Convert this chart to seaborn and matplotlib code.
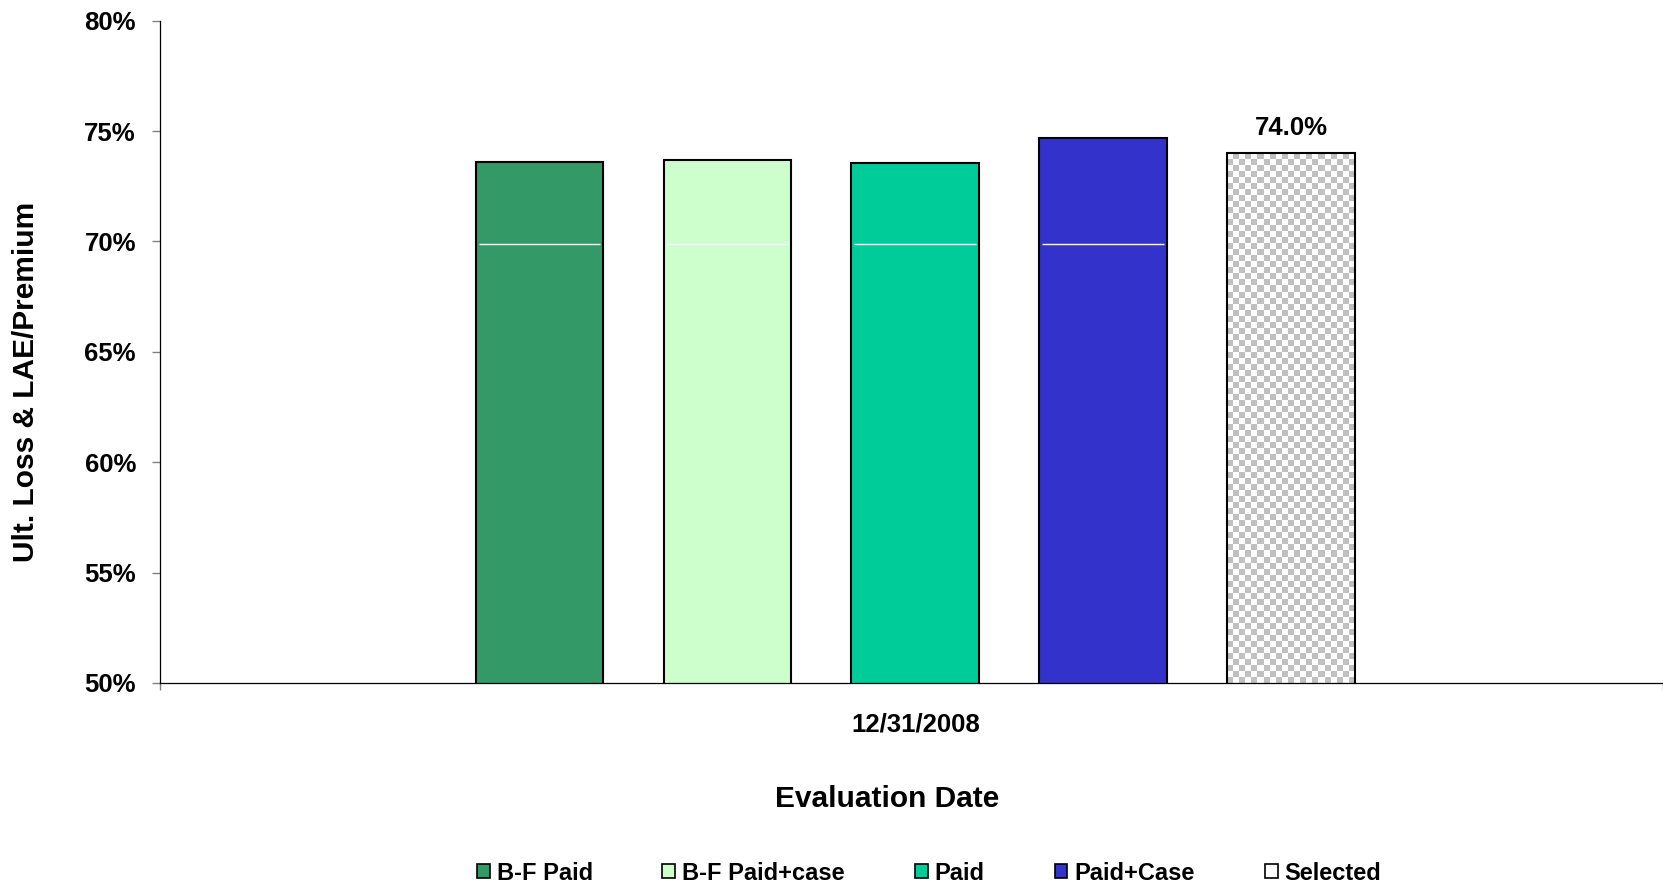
import numpy as np
import pandas as pd
import matplotlib
matplotlib.use("Agg")
import matplotlib.pyplot as plt
from matplotlib.colors import ListedColormap
from matplotlib.patches import Patch
from matplotlib.ticker import MultipleLocator, PercentFormatter
import seaborn as sns

# ---- data -------------------------------------------------------------
eval_dates = ["12/31/2008"]
methods = ["B-F Paid", "B-F Paid+case", "Paid", "Paid+Case", "Selected"]
ult_ratio = [73.6, 73.7, 73.55, 74.7, 74.0]          # Ult. Loss & LAE / Premium, %
inner_split = [69.9, 69.9, 69.9, 69.9]              # split line inside the method bars
colors = ["#339966", "#CCFFCC", "#00CC99", "#3333CC", "#FFFFFF"]
y_ticks = [50, 55, 60, 65, 70, 75, 80]

# ---- style ------------------------------------------------------------
sns.set_style("white")
plt.rcParams["font.family"] = ["Liberation Sans", "DejaVu Sans"]
plt.rcParams["font.weight"] = "bold"
plt.rcParams["axes.labelweight"] = "bold"
plt.rcParams["text.color"] = "black"
plt.rcParams["axes.labelcolor"] = "black"
plt.rcParams["xtick.labelcolor"] = "black"
plt.rcParams["ytick.labelcolor"] = "black"

df = pd.DataFrame({
    "date": eval_dates * len(methods),
    "method": methods,
    "ratio": ult_ratio,
})

W, H = 1663, 883
fig = plt.figure(figsize=(W / 100, H / 100), dpi=100)
ax = fig.add_axes([160 / W, 1 - 683 / H, 1 - 160 / W, (683 - 20.7) / H])

sns.barplot(
    data=df, x="date", y="ratio", hue="method", hue_order=methods,
    palette=dict(zip(methods, colors)), saturation=1,
    width=0.625, gap=0.32, edgecolor="black", linewidth=1.5,
    errorbar=None, legend=False, ax=ax,
)

XLIM = (-0.5025, 0.4975)
ax.set_xlim(*XLIM)
ax.set_ylim(y_ticks[0], y_ticks[-1])

# split line inside each method bar
for cont, split in zip(ax.containers[:4], inner_split):
    p = cont.patches[0]
    ax.hlines(split, p.get_x() + 0.002, p.get_x() + p.get_width() - 0.002,
              color="white", linewidth=1.0, zorder=3)

# checkered fill for the selected bar
sel = ax.containers[4].patches[0]
sel.set_facecolor("none")
sel.set_zorder(3)
x0, x1 = sel.get_x(), sel.get_x() + sel.get_width()
y0, y1 = y_ticks[0], sel.get_height()
(px0, py0), (px1, py1) = ax.transData.transform([(x0, y0), (x1, y1)])
cell = 6.0
ncols = max(1, int(round(abs(px1 - px0) / cell)))
nrows = max(1, int(round(abs(py1 - py0) / cell)))
board = (np.add.outer(np.arange(nrows), np.arange(ncols)) % 2).astype(float)
im = ax.imshow(board, cmap=ListedColormap(["#FFFFFF", "#C0C0C0"]),
               extent=[x0, x1, y0, y1], aspect="auto",
               interpolation="nearest", zorder=2)
im.set_clip_path(sel)
ax.set_xlim(*XLIM)
ax.set_ylim(y_ticks[0], y_ticks[-1])

ax.bar_label(ax.containers[4], labels=[f"{ult_ratio[4]:.1f}%"],
             padding=9.5, fontsize=18.5, fontweight="bold", color="black")

# ---- axes -------------------------------------------------------------
ax.yaxis.set_major_locator(MultipleLocator(5))
ax.yaxis.set_major_formatter(PercentFormatter(decimals=0))
ax.set_yticks(y_ticks)
ax.tick_params(axis="y", which="major", left=True, length=5.8, width=1,
               color="#808080", labelcolor="black", pad=11.5, labelsize=18.5)
ax.tick_params(axis="x", which="major", bottom=False, length=0, pad=21.5,
               labelcolor="black", labelsize=18.5)
ax.set_xticks(list(XLIM), minor=True)
ax.tick_params(axis="x", which="minor", bottom=True, length=5, width=1,
               color="#808080")
for lab in ax.get_xticklabels() + ax.get_yticklabels():
    lab.set_fontweight("bold")

for side in ("top", "right"):
    ax.spines[side].set_visible(False)
for side in ("left", "bottom"):
    ax.spines[side].set_color("black")
    ax.spines[side].set_linewidth(0.9)

ax.set_xlabel("Evaluation Date", fontsize=21.5, fontweight="bold", color="black")
ax.set_ylabel("Ult. Loss & LAE/Premium", fontsize=21.5, fontweight="bold", color="black")
ax.xaxis.set_label_coords((887 - 160) / 1503, (683 - 799) / 662.3)
ax.xaxis.label.set_va("center")
ax.yaxis.set_label_coords((26.5 - 160) / 1503, (683 - 382) / 662.3)
ax.yaxis.label.set_va("center")

# ---- legend -----------------------------------------------------------
handles = [Patch(facecolor=c, edgecolor="black", linewidth=1.2) for c in colors]
fig.legend(handles, methods, loc="center", bbox_to_anchor=(929 / W, 1 - 873 / H),
           ncol=5, frameon=False, prop={"size": 17, "weight": "bold"},
           labelcolor="black",
           handlelength=0.55, handleheight=0.55, handletextpad=0.3,
           columnspacing=2.95)

fig.savefig("out.png", dpi=100)
